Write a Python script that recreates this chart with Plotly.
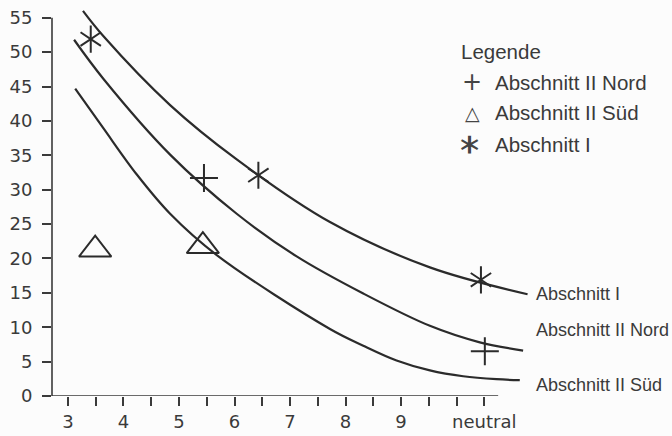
import plotly.graph_objects as go

# ---- data ----
curve_I_x = [3.27, 3.64, 4.84, 6.04, 7.72, 9.52, 11.28]
curve_I_y = [56.0, 52.3, 42.3, 34.4, 25.3, 18.7, 14.8]

curve_nord_x = [3.11, 3.64, 4.84, 6.04, 7.12, 8.32, 9.52, 10.42, 11.2]
curve_nord_y = [51.8, 46.1, 35.1, 26.5, 20.3, 14.9, 10.2, 7.8, 6.6]

curve_sued_x = [3.13, 3.64, 4.24, 4.84, 5.68, 7.72, 8.32, 8.92, 9.52, 10.12, 10.72, 11.14]
curve_sued_y = [44.7, 38.9, 32.2, 26.5, 20.5, 9.75, 7.32, 5.17, 3.73, 2.87, 2.44, 2.3]

pts_nord_x = [5.45, 10.51]
pts_nord_y = [31.7, 6.5]
pts_sued_x = [3.49, 5.43]
pts_sued_y = [21.3, 21.8]
pts_I_x = [3.41, 6.43, 10.44]
pts_I_y = [51.9, 32.1, 16.9]

x_tickvals = [3, 3.5, 4, 4.5, 5, 5.5, 6, 6.5, 7, 7.5, 8, 8.5, 9, 9.5, 10, 10.5]
x_ticktext = ["3", "", "4", "", "5", "", "6", "", "7", "", "8", "", "9", "", "", "neutral"]
y_tickvals = [0, 5, 10, 15, 20, 25, 30, 35, 40, 45, 50, 55]

curve_labels = ["Abschnitt I", "Abschnitt II Nord", "Abschnitt II Süd"]
legend_title = "Legende"
legend_labels = ["Abschnitt II Nord", "Abschnitt II Süd", "Abschnitt I"]
legend_glyphs = ["+", "△", "⚹"]

# ---- styling ----
INK = "#2b2b2b"
TXT = "#3a3a3a"
BG = "#fcfcfc"
X_MIN, X_MAX = 2.712, 11.45
Y_MIN, Y_MAX = 0, 57

fig = go.Figure()

line_style = dict(color=INK, width=2.2, shape="spline", smoothing=1.0)
for cx, cy in [(curve_I_x, curve_I_y), (curve_nord_x, curve_nord_y), (curve_sued_x, curve_sued_y)]:
    fig.add_trace(go.Scatter(x=cx, y=cy, mode="lines", line=line_style,
                             showlegend=False, hoverinfo="skip"))

fig.add_trace(go.Scatter(x=pts_nord_x, y=pts_nord_y, mode="markers", showlegend=False,
                         marker=dict(symbol="cross-thin-open", size=20, color=INK,
                                     line=dict(color=INK, width=2))))
fig.add_trace(go.Scatter(x=pts_sued_x, y=pts_sued_y, mode="markers", showlegend=False,
                         marker=dict(symbol="triangle-up-open", size=28, color=INK,
                                     line=dict(color=INK, width=2))))
for sym in ["y-up-open", "y-down-open"]:
    fig.add_trace(go.Scatter(x=pts_I_x, y=pts_I_y, mode="markers", showlegend=False,
                             marker=dict(symbol=sym, size=17, color=INK,
                                         line=dict(color=INK, width=2))))

# axis lines (x axis line stops just past 'neutral', y axis line stops at 55)
fig.add_shape(type="line", xref="x", yref="y", x0=X_MIN, x1=10.75, y0=0, y1=0,
              line=dict(color=TXT, width=1.6))
fig.add_shape(type="line", xref="paper", yref="y", x0=0, x1=0, y0=0, y1=55,
              line=dict(color=TXT, width=1.6))

# curve end labels
label_font = dict(family="Liberation Sans, Arial, sans-serif", size=18, color=TXT)
for txt, yv in zip(curve_labels, [14.9, 9.6, 1.6]):
    fig.add_annotation(x=1.0, xref="paper", y=yv, yref="y", text=txt, showarrow=False,
                       xanchor="left", yanchor="middle", xshift=-3, font=label_font)

# manual legend
leg_font = dict(family="Liberation Sans, Arial, sans-serif", size=20.5, color=TXT)
fig.add_annotation(x=0.839, y=0.879, xref="paper", yref="paper", text=legend_title,
                   showarrow=False, xanchor="left", yanchor="middle", font=leg_font)
for i, (g, t) in enumerate(zip(legend_glyphs, legend_labels)):
    yy = [0.801, 0.723, 0.642][i]
    fig.add_annotation(x=0.909, y=yy, xref="paper", yref="paper", text=t,
                       showarrow=False, xanchor="left", yanchor="middle", font=leg_font)
    gsize = [24, 19, 32][i]
    fig.add_annotation(x=0.866, y=yy, xref="paper", yref="paper", text=g,
                       showarrow=False, xanchor="center", yanchor="middle",
                       textangle=90 if i == 2 else 0,
                       font=dict(family="DejaVu Sans, sans-serif", size=gsize, color="#444"))

tick_font = dict(family="DejaVu Sans, sans-serif", size=18, color=TXT)
fig.update_xaxes(range=[X_MIN, X_MAX], showline=False, showgrid=False, zeroline=False,
                 tickmode="array", tickvals=x_tickvals, ticktext=x_ticktext,
                 ticks="outside", ticklen=9, tickwidth=1.5, tickcolor=TXT,
                 tickfont=tick_font)
fig.update_yaxes(range=[Y_MIN, Y_MAX], showline=False, showgrid=False, zeroline=False,
                 tickmode="array", tickvals=y_tickvals,
                 ticks="outside", ticklen=9, tickwidth=1.5, tickcolor=TXT,
                 tickfont=tick_font, ticklabelstandoff=6)

fig.update_layout(width=672, height=436, margin=dict(l=52, r=135, t=4, b=35),
                  paper_bgcolor=BG, plot_bgcolor=BG, showlegend=False)

fig.write_html("out.html")
